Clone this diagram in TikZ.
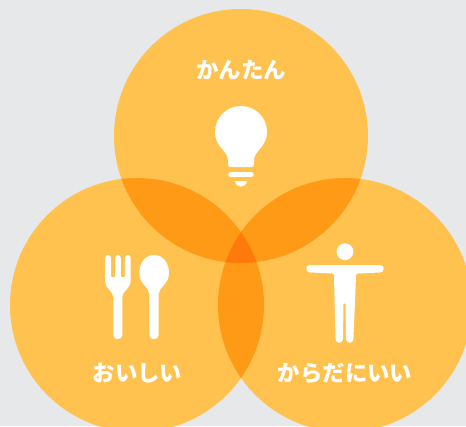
\documentclass[tikz,border=0pt]{standalone}
\usepackage{fontspec}
\newfontfamily\cjk{Noto Sans CJK JP}
\usetikzlibrary{positioning,calc}
\definecolor{bgcol}{HTML}{E6E8EA}
\definecolor{circcol}{HTML}{FFC24F}
\definecolor{twocol}{HTML}{FF9A17}
\definecolor{threecol}{HTML}{FF7A0A}
\tikzset{
  lbl/.style={text=white,font=\cjk\bfseries\fontsize{22.4}{22.4}\selectfont,inner sep=0pt},
  icon/.style={fill=white,draw=none},
  bar/.style={draw=white,line cap=round}
}
\begin{document}
\begin{tikzpicture}[x=1pt,y=-1pt]
  \fill [bgcol] (0,0) rectangle (466,426);
  \clip (0,0) rectangle (466,426);
  \coordinate (top) at (241,136);
  \coordinate (left) at (137,305);
  \coordinate (right) at (345,305);
  \foreach \c in {top,left,right} \fill [circcol] (\c) circle (127);
  % overlaps
  \begin{scope}
    \clip (top) circle (127);
    \fill [twocol] (left) circle (127);
    \fill [twocol] (right) circle (127);
  \end{scope}
  \begin{scope}
    \clip (left) circle (127);
    \fill [twocol] (right) circle (127);
    \clip (right) circle (127);
    \fill [threecol] (top) circle (127);
  \end{scope}
  \node [lbl] (easy) at (241,70.5) {かんたん};
  \node [lbl] (tasty) at (137.5,373) {おいしい};
  \node [lbl] (healthy) at (345,373) {からだにいい};
  % bulb
  \fill [icon] (228,164) -- (228,160) .. controls (228,151) and (215,147) .. (215,132)
     .. controls (215,117.6) and (226.6,106) .. (241,106)
     .. controls (255.4,106) and (267,117.6) .. (267,132)
     .. controls (267,147) and (254,151) .. (254,160) -- (254,164)
     .. controls (254,166) and (253,167) .. (251,167) -- (231,167)
     .. controls (229,167) and (228,166) .. (228,164) -- cycle;
  \draw [bar,line width=5.5pt] (231,174.5) -- (251,174.5);
  \fill [icon] (235,181) -- (247,181) .. controls (246,188.5) and (236,188.5) .. (235,181) -- cycle;
  % fork
  \fill [icon] (105,258) .. controls (105,254) and (111,254) .. (111,258) -- (111,276.5)
     .. controls (111,277.5) and (115,277.5) .. (115,276.5) -- (115,258)
     .. controls (115,254) and (120.8,254) .. (120.8,258) -- (120.8,276.5)
     .. controls (120.8,277.5) and (124.8,277.5) .. (124.8,276.5) -- (124.8,258)
     .. controls (124.8,254) and (130.7,254) .. (130.7,258) -- (130.7,280)
     .. controls (130.7,289) and (122.3,291) .. (122.3,297) -- (122.3,335)
     .. controls (122.3,340.5) and (113.3,340.5) .. (113.3,335) -- (113.3,297)
     .. controls (113.3,291) and (105,289) .. (105,280) -- cycle;
  % spoon
  \fill [icon] (154,255) .. controls (163,255) and (169,263) .. (169,273)
     .. controls (169,284) and (159,287) .. (158.7,294) -- (158.7,335)
     .. controls (158.7,340.5) and (149.3,340.5) .. (149.3,335) -- (149.3,294)
     .. controls (149,287) and (139.3,284) .. (139.3,273)
     .. controls (139.3,263) and (145,255) .. (154,255) -- cycle;
  % person
  \fill [icon] (345,251.7) circle (8.4);
  \fill [icon] (310,265) -- (380,265) .. controls (385,265) and (385,272.5) .. (380,272.5)
     -- (358,273.5) .. controls (356.5,273.5) and (356,275) .. (356,276) -- (353.5,338)
     .. controls (353.5,344.5) and (346,344.5) .. (346,338) -- (345.5,304)
     .. controls (345.5,303) and (343.5,303) .. (343.5,304) -- (343,338)
     .. controls (343,344.5) and (335.5,344.5) .. (335.5,338) -- (334,276)
     .. controls (334,275) and (333.5,273.5) .. (332,273.5) -- (310,272.5)
     .. controls (305,272.5) and (305,265) .. (310,265) -- cycle;
\end{tikzpicture}
\end{document}
